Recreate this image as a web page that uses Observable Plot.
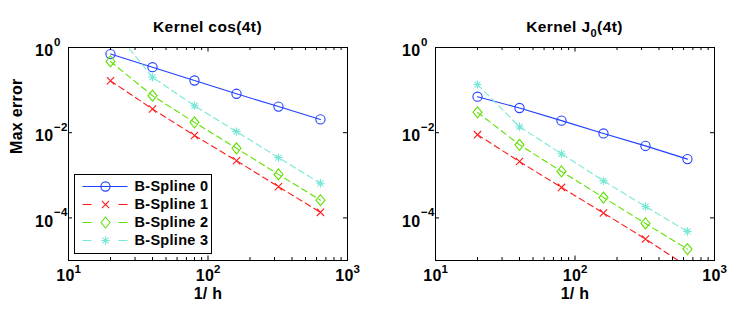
<!DOCTYPE html>
<html>
<head>
<meta charset="utf-8">
<script src="https://cdn.jsdelivr.net/npm/d3@7"></script>
<script src="https://cdn.jsdelivr.net/npm/@observablehq/plot@0.6"></script>
<style>
  body { margin: 0; background: #fff; }
  #root { position: relative; width: 732px; height: 314px; background: #fff; font-family: "Liberation Sans", Arial, Helvetica, sans-serif; }
  .title { position: absolute; top: 19px; width: 300px; text-align: center; font-size: 15.5px; line-height: 15px; font-weight: bold; letter-spacing: 0.4px; color: #000; }
  .title sub { font-size: 11px; vertical-align: -5px; line-height: 0; }
  .panel { position: absolute; top: 0; }
  #legend { position: absolute; left: 74px; top: 174px; }
</style>
</head>
<body>
<div id="root">
  <div class="title" style="left:57.5px">Kernel cos(4t)</div>
  <div class="title" style="left:424.5px">Kernel J<sub>0</sub>(4t)</div>
  <div class="panel" id="left" style="left:0"></div>
  <div class="panel" id="right" style="left:366px"></div>
  <div id="legend"></div>
</div>
<script>
// ---------- data ----------
const xs = [20, 40, 80, 160, 320, 640];
const seriesNames = ["B-Spline 0", "B-Spline 1", "B-Spline 2", "B-Spline 3"];

// Kernel cos(4t)
const cosBS0 = [0.70, 0.345, 0.168, 0.082, 0.041, 0.0205];
const cosBS1 = [0.165, 0.036, 0.0086, 0.0022, 5.4e-4, 1.35e-4];
const cosBS2 = [0.47, 0.074, 0.0175, 0.0043, 1.05e-3, 2.6e-4];
const cosBS3 = [3.3, 0.20, 0.043, 0.0106, 2.6e-3, 6.5e-4];

// Kernel J0(4t)
const j0BS0 = [0.070, 0.038, 0.0192, 0.0096, 0.0049, 0.0024];
const j0BS1 = [0.0090, 0.0021, 5.2e-4, 1.3e-4, 3.2e-5, 7.2e-6];
const j0BS2 = [0.030, 0.0052, 1.23e-3, 3.0e-4, 7.4e-5, 1.85e-5];
const j0BS3 = [0.135, 0.0138, 3.2e-3, 7.4e-4, 1.85e-4, 4.8e-5];

// ticks
const xTickMajor = [10, 100, 1000];
const xTickMinor = [20, 30, 40, 50, 60, 70, 80, 90, 200, 300, 400, 500, 600, 700, 800, 900];
const yTickValues = [1, 1e-2, 1e-4];

const xLabel = "1/ h";
const yLabel = "Max error";

// ---------- styles ----------
const FONT = "'Liberation Sans', Arial, Helvetica, sans-serif";

const asterisk8 = {
  draw(ctx, size) {
    const r = Math.sqrt(size / Math.PI);
    const d = r * Math.SQRT1_2;
    ctx.moveTo(-r, 0); ctx.lineTo(r, 0);
    ctx.moveTo(0, -r); ctx.lineTo(0, r);
    ctx.moveTo(-d, -d); ctx.lineTo(d, d);
    ctx.moveTo(-d, d); ctx.lineTo(d, -d);
  }
};
const diamondM = {
  draw(ctx, size) {
    const r = Math.sqrt(size / Math.PI);
    const w = r, h = r * 1.22;
    ctx.moveTo(0, -h); ctx.lineTo(w, 0); ctx.lineTo(0, h); ctx.lineTo(-w, 0); ctx.closePath();
  }
};
const styles = [
  {color: "#2040ff", dash: null, legendDash: null, symbol: "circle", r: 4.6},
  {color: "#ff1a1a", dash: "6,4", legendDash: "9,27", symbol: "times", r: 3.4},
  {color: "#5fe000", dash: "6,4", legendDash: "9,27", symbol: diamondM, r: 4.5},
  {color: "#78e8d6", dash: "6,4", legendDash: "9,27", symbol: asterisk8, r: 4.2}
];

const expText = v => {
  const e = Math.round(Math.log10(v));
  return e < 0 ? "\u2212" + (-e) : String(e);
};

function panel(values, m) {
  const W = 366, H = 314;
  const plotH = H - m.top - m.bottom;
  const plotW = W - m.left - m.right;
  const marks = [];
  seriesNames.forEach((name, i) => {
    const st = styles[i];
    const data = xs.map((x, j) => ({series: name, x, y: values[i][j]}));
    marks.push(Plot.line(data, {x: "x", y: "y", stroke: st.color, strokeWidth: 1.1, strokeDasharray: st.dash, clip: true}));
    marks.push(Plot.dot(data, {x: "x", y: "y", stroke: st.color, fill: "none", symbol: st.symbol, r: st.r, strokeWidth: 1.1, clip: true}));
  });
  // inward ticks
  marks.push(Plot.ruleX(xTickMajor, {x: d => d, insetTop: plotH - 4.5, stroke: "black"}));
  marks.push(Plot.ruleX(xTickMajor, {x: d => d, insetBottom: plotH - 4.5, stroke: "black"}));
  marks.push(Plot.ruleX(xTickMinor, {x: d => d, insetTop: plotH - 3, stroke: "black"}));
  marks.push(Plot.ruleX(xTickMinor, {x: d => d, insetBottom: plotH - 3, stroke: "black"}));
  marks.push(Plot.ruleY(yTickValues, {y: d => d, insetRight: plotW - 4, stroke: "black"}));
  marks.push(Plot.ruleY(yTickValues, {y: d => d, insetLeft: plotW - 4, stroke: "black"}));
  marks.push(Plot.frame({stroke: "black", strokeWidth: 1}));
  // tick labels
  marks.push(Plot.text(yTickValues, {y: d => d, frameAnchor: "left", text: () => "10", textAnchor: "end", dx: -15, dy: 3.5, fontSize: 16, fontWeight: "bold", fill: "black"}));
  marks.push(Plot.text(yTickValues, {y: d => d, frameAnchor: "left", text: expText, textAnchor: "start", dx: -14.5, dy: -5.5, fontSize: 11.5, fontWeight: "bold", fill: "black"}));
  marks.push(Plot.text(xTickMajor, {x: d => d, frameAnchor: "bottom", text: () => "10", textAnchor: "middle", dx: -3, dy: 20, fontSize: 16, fontWeight: "bold", fill: "black"}));
  marks.push(Plot.text(xTickMajor, {x: d => d, frameAnchor: "bottom", text: expText, textAnchor: "start", dx: 6, dy: 12, fontSize: 11.5, fontWeight: "bold", fill: "black"}));
  marks.push(Plot.text([xLabel], {frameAnchor: "bottom", text: d => d, dy: 38, fontSize: 16, fontWeight: "bold", fill: "black"}));
  if (m.yLabel) {
    marks.push(Plot.text([yLabel], {frameAnchor: "left", text: d => d, rotate: -90, dx: -52, fontSize: 16, fontWeight: "bold", fill: "black"}));
  }
  return Plot.plot({
    width: W, height: H,
    marginLeft: m.left, marginRight: m.right, marginTop: m.top, marginBottom: m.bottom,
    x: {type: "log", domain: [10, 1000], axis: null},
    y: {type: "log", domain: [1e-5, 1], axis: null},
    style: {fontFamily: FONT, letterSpacing: "0.3px", background: "transparent", overflow: "visible"},
    marks
  });
}

document.getElementById("left").appendChild(panel([cosBS0, cosBS1, cosBS2, cosBS3], {left: 68, right: 19, top: 47, bottom: 54, yLabel: true}));
document.getElementById("right").appendChild(panel([j0BS0, j0BS1, j0BS2, j0BS3], {left: 69, right: 18, top: 47, bottom: 54, yLabel: false}));

// ---------- legend ----------
const LW = 137, LH = 79;
const legendMarks = [Plot.frame({fill: "white", stroke: "black", strokeWidth: 1})];
seriesNames.forEach((name, i) => {
  const st = styles[i];
  legendMarks.push(Plot.ruleY([name], {y: d => d, x1: 8.5, x2: 53.5, stroke: st.color, strokeWidth: 1.1, strokeDasharray: st.legendDash}));
  legendMarks.push(Plot.dot([name], {y: d => d, x: () => 31, stroke: st.color, fill: "none", symbol: st.symbol, r: st.r, strokeWidth: 1.1}));
});
legendMarks.push(Plot.text(seriesNames, {y: d => d, x: () => 60, text: d => d, textAnchor: "start", fontSize: 14.5, fontWeight: "bold", fill: "black"}));
document.getElementById("legend").appendChild(Plot.plot({
  width: LW, height: LH, margin: 0,
  x: {type: "linear", domain: [0, LW], range: [0, LW], axis: null},
  y: {type: "point", domain: seriesNames, range: [12, 66], padding: 0, axis: null},
  style: {fontFamily: FONT, letterSpacing: "0.3px", background: "transparent", overflow: "visible"},
  marks: legendMarks
}));
</script>
</body>
</html>
